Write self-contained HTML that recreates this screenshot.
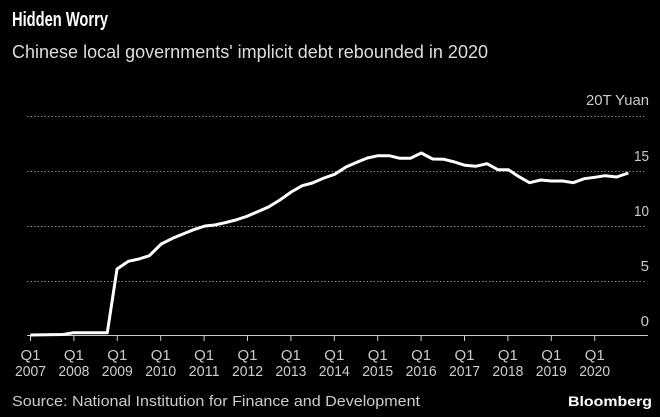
<!DOCTYPE html>
<html><head><style>
body{margin:0;background:#000;width:660px;height:417px;overflow:hidden;font-family:"Liberation Sans",sans-serif;color:#fff}
</style></head><body>
<svg width="660" height="417" xmlns="http://www.w3.org/2000/svg" style="position:absolute;left:0;top:0">
<rect width="660" height="417" fill="#000"/>
<text x="12" y="26" font-size="20" font-weight="bold" fill="#fff" textLength="96" lengthAdjust="spacingAndGlyphs" font-family="Liberation Sans, sans-serif">Hidden Worry</text>
<text x="12" y="58" font-size="18" fill="#ddd" textLength="476" lengthAdjust="spacingAndGlyphs" font-family="Liberation Sans, sans-serif">Chinese local governments' implicit debt rebounded in 2020</text>
<g stroke="#888" stroke-width="1" stroke-dasharray="1.5,2">
<line x1="27" x2="646" y1="116.5" y2="116.5"/>
<line x1="27" x2="646" y1="171.5" y2="171.5"/>
<line x1="27" x2="646" y1="226.5" y2="226.5"/>
<line x1="27" x2="646" y1="281.5" y2="281.5"/>
</g>
<line x1="27" x2="648" y1="335.5" y2="335.5" stroke="#ccc" stroke-width="1"/>
<g font-size="15" fill="#ccc" text-anchor="end" font-family="Liberation Sans, sans-serif">
<text x="649" y="105" textLength="63" lengthAdjust="spacingAndGlyphs">20T Yuan</text>
<text x="649" y="161" textLength="15" lengthAdjust="spacingAndGlyphs">15</text>
<text x="649" y="216" textLength="15" lengthAdjust="spacingAndGlyphs">10</text>
<text x="649" y="271">5</text>
<text x="649" y="326">0</text>
</g>
<g stroke="#ccc" stroke-width="1">
<line x1="30.5" x2="30.5" y1="335" y2="341"/><line x1="73.9" x2="73.9" y1="335" y2="341"/><line x1="117.3" x2="117.3" y1="335" y2="341"/><line x1="160.7" x2="160.7" y1="335" y2="341"/><line x1="204.1" x2="204.1" y1="335" y2="341"/><line x1="247.5" x2="247.5" y1="335" y2="341"/><line x1="290.9" x2="290.9" y1="335" y2="341"/><line x1="334.3" x2="334.3" y1="335" y2="341"/><line x1="377.7" x2="377.7" y1="335" y2="341"/><line x1="421.1" x2="421.1" y1="335" y2="341"/><line x1="464.5" x2="464.5" y1="335" y2="341"/><line x1="507.9" x2="507.9" y1="335" y2="341"/><line x1="551.3" x2="551.3" y1="335" y2="341"/><line x1="594.7" x2="594.7" y1="335" y2="341"/>
</g>
<g font-size="15" fill="#ccc" text-anchor="middle" font-family="Liberation Sans, sans-serif">
<text x="30.5" y="360">Q1</text><text x="30.5" y="376" textLength="31" lengthAdjust="spacingAndGlyphs">2007</text>
<text x="73.9" y="360">Q1</text><text x="73.9" y="376" textLength="31" lengthAdjust="spacingAndGlyphs">2008</text>
<text x="117.3" y="360">Q1</text><text x="117.3" y="376" textLength="31" lengthAdjust="spacingAndGlyphs">2009</text>
<text x="160.7" y="360">Q1</text><text x="160.7" y="376" textLength="31" lengthAdjust="spacingAndGlyphs">2010</text>
<text x="204.1" y="360">Q1</text><text x="204.1" y="376" textLength="31" lengthAdjust="spacingAndGlyphs">2011</text>
<text x="247.5" y="360">Q1</text><text x="247.5" y="376" textLength="31" lengthAdjust="spacingAndGlyphs">2012</text>
<text x="290.9" y="360">Q1</text><text x="290.9" y="376" textLength="31" lengthAdjust="spacingAndGlyphs">2013</text>
<text x="334.3" y="360">Q1</text><text x="334.3" y="376" textLength="31" lengthAdjust="spacingAndGlyphs">2014</text>
<text x="377.7" y="360">Q1</text><text x="377.7" y="376" textLength="31" lengthAdjust="spacingAndGlyphs">2015</text>
<text x="421.1" y="360">Q1</text><text x="421.1" y="376" textLength="31" lengthAdjust="spacingAndGlyphs">2016</text>
<text x="464.5" y="360">Q1</text><text x="464.5" y="376" textLength="31" lengthAdjust="spacingAndGlyphs">2017</text>
<text x="507.9" y="360">Q1</text><text x="507.9" y="376" textLength="31" lengthAdjust="spacingAndGlyphs">2018</text>
<text x="551.3" y="360">Q1</text><text x="551.3" y="376" textLength="31" lengthAdjust="spacingAndGlyphs">2019</text>
<text x="594.7" y="360">Q1</text><text x="594.7" y="376" textLength="31" lengthAdjust="spacingAndGlyphs">2020</text>
</g>
<polyline fill="none" stroke="#fff" stroke-width="3" stroke-linejoin="round" points="30.3,335 63,334.5 73.7,332.7 107.3,332.7 117,269 128.4,261.3 138.9,259 149.4,255.7 161.2,244 172.6,238.3 183,234 193.6,229.7 205,226 214.6,225 225.2,222.7 235.7,220 247,216.3 257.6,211.7 268.5,207 279.9,200 291.2,192 302.2,185.7 312.3,183 324,178 334.6,174.3 346,167 356.9,162.3 367.4,158 378,155.7 389.3,155.7 399.8,158.3 410.4,158.3 421.3,153 432.7,159 444,159.3 454.5,162 465,165.3 475.6,166.3 487,163.7 497.9,169.7 508.4,169.7 519,176.7 529.5,182.7 540.8,180 551.3,181 562.7,181 573.2,182.7 584.2,178.7 594.7,177.3 605.2,175.7 616.6,177 628.4,173"/>
<text x="12" y="406" font-size="15" fill="#ccc" textLength="408" lengthAdjust="spacingAndGlyphs" font-family="Liberation Sans, sans-serif">Source: National Institution for Finance and Development</text>
<text x="652" y="406" font-size="14" font-weight="bold" fill="#fff" text-anchor="end" textLength="84" lengthAdjust="spacingAndGlyphs" font-family="Liberation Sans, sans-serif">Bloomberg</text>
</svg>
</body></html>
